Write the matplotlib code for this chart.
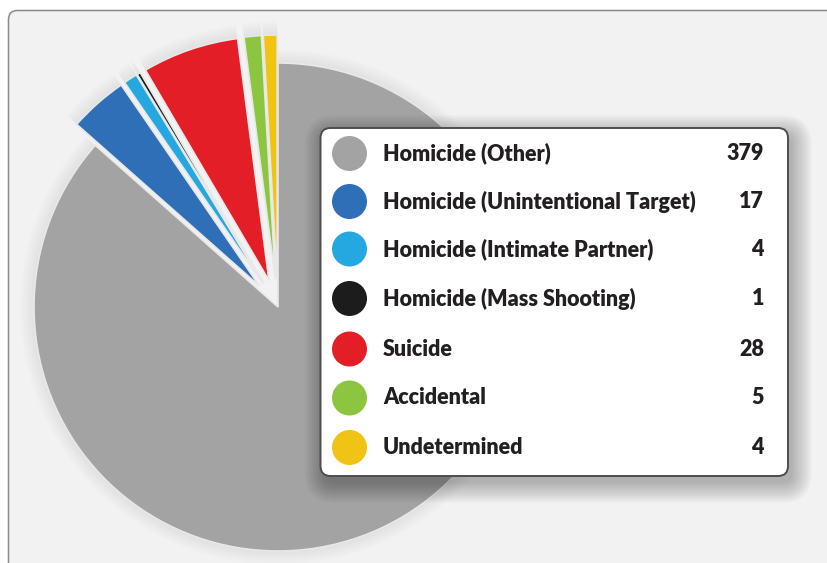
import matplotlib
matplotlib.use("Agg")
import matplotlib.pyplot as plt
from matplotlib.patches import FancyBboxPatch, Circle

categories = ["Homicide (Other)", "Homicide (Unintentional Target)",
              "Homicide (Intimate Partner)", "Homicide (Mass Shooting)",
              "Suicide", "Accidental", "Undetermined"]
values = [379, 17, 4, 1, 28, 5, 4]
colors = ["#a3a3a3", "#2f6fb8", "#25a8e0", "#1c1c1c", "#e31e27", "#8cc640", "#f1c314"]

W, H = 827, 563
OFF = 28  # explode distance in pixels
explode = [0] + [OFF] * (len(values) - 1)

fig = plt.figure(figsize=(W / 100, H / 100), dpi=100)
fig.patch.set_facecolor("white")
ax = fig.add_axes([0, 0, 1, 1])

# outer panel
panel = FancyBboxPatch((8.5, -20), 840, H - 10.5 + 20,
                       boxstyle="round,pad=0,rounding_size=9",
                       facecolor="#f2f2f3", edgecolor="#8a8a8a", linewidth=1.1, zorder=0)
ax.add_patch(panel)

cx, cy, R = 278, H - 307, 244

wedges, _ = ax.pie(values, colors=colors, explode=explode, startangle=90,
                   counterclock=False, center=(cx, cy), radius=R, frame=True,
                   wedgeprops=dict(edgecolor="#e8e8e8", linewidth=1.2))
for w in wedges:
    w.set_zorder(2)

# soft shadow behind pie slices
import matplotlib.patches as mp
for w in wedges:
    for i in range(6):
        sh = mp.Wedge(w.center, w.r + 1 + i * 2.5, w.theta1, w.theta2,
                      facecolor="black", edgecolor="none", alpha=0.012, zorder=1)
        ax.add_patch(sh)

ax.set_xlim(0, W)
ax.set_ylim(0, H)
ax.set_aspect("equal")
ax.axis("off")

# legend box with shadow
lx0, lx1 = 320.5, 788
ly0, ly1 = H - 476, H - 128
for i in range(12):
    e = i * 1.8
    ax.add_patch(FancyBboxPatch((lx0 + 4 - e, ly0 - 7 - e), (lx1 - lx0) + 2 * e,
                                (ly1 - ly0) + 2 * e,
                                boxstyle="round,pad=0,rounding_size=%g" % (10 + e),
                                facecolor="black", edgecolor="none", alpha=0.022, zorder=3))
ax.add_patch(FancyBboxPatch((lx0, ly0), lx1 - lx0, ly1 - ly0,
                            boxstyle="round,pad=0,rounding_size=10",
                            facecolor="white", edgecolor="#4d4d4d", linewidth=1.4, zorder=4))

row_y = [153.5, 201.5, 249, 298.5, 349, 398, 447.5]
for name, val, col, yy in zip(categories, values, colors, row_y):
    y = H - yy
    ax.add_patch(Circle((349.5, y), 17.5, facecolor=col, edgecolor="none", zorder=5))
    ax.text(383, y, name, fontsize=15.5, fontweight="heavy", family="Lato",
            color="#231f20", va="center", ha="left", zorder=6)
    ax.text(764, y, str(val), fontsize=15.5, fontweight="heavy", family="Lato",
            color="#231f20", va="center", ha="right", zorder=6)

fig.savefig("out.png", dpi=100, facecolor=fig.get_facecolor())
